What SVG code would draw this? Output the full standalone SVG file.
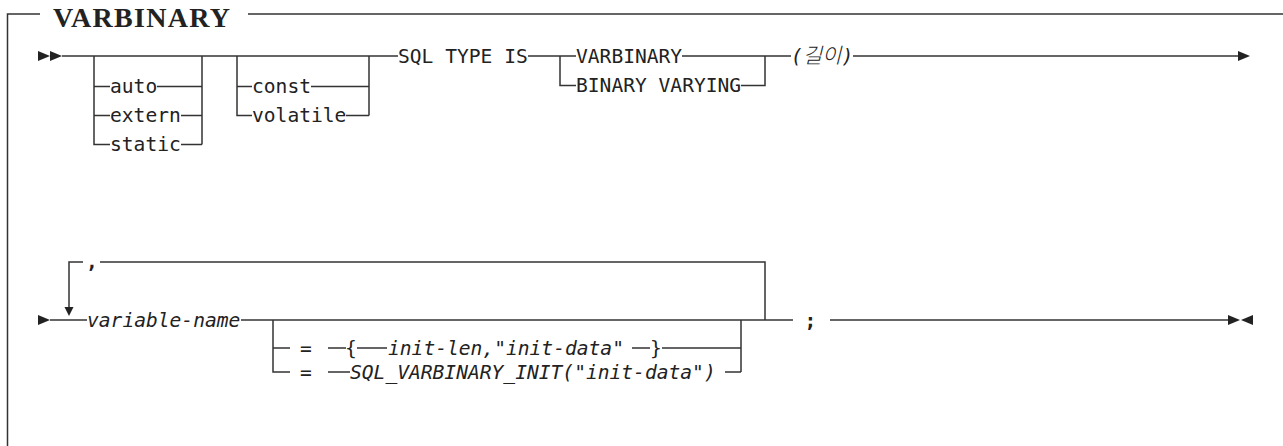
<svg xmlns="http://www.w3.org/2000/svg" width="1283" height="446" viewBox="0 0 1283 446">
  <style>
    .ln { fill: none; stroke: #333; stroke-width: 1.5; }
    .mk { fill: #222; stroke: none; }
    .kw { font-family: "DejaVu Sans Mono", "Liberation Mono", monospace; font-size: 19.6px; fill: #222; }
    .var { font-family: "DejaVu Sans Mono", "Liberation Mono", "Noto Sans CJK KR", monospace; font-size: 19.6px; font-style: italic; fill: #222; }
    .cjk { font-family: "Noto Sans CJK KR", sans-serif; font-size: 21px; font-weight: 300; }
    .title { font-family: "Liberation Serif", serif; font-weight: bold; font-size: 28px; fill: #222; }
  </style>
  <defs>
    <path id="tri-r" d="M0,-5 L12,0 L0,5 Z"/>
  </defs>

  <!-- frame with title -->
  <g id="frame">
    <path class="ln" d="M7.5,446 V14 H40 M248,14 H1283"/>
    <text class="title" x="53" y="27" textLength="177">VARBINARY</text>
  </g>

  <!-- connectors -->
  <g id="connectors">
    <!-- line 1: start marks -->
    <use href="#tri-r" class="mk" x="38" y="56"/>
    <use href="#tri-r" class="mk" x="50" y="56"/>
    <!-- main line 1 -->
    <path class="ln" d="M62,56 H398"/>
    <!-- storage class choice -->
    <path class="ln" d="M94,56 V144.5 H110 M94,86.5 H110 M94,115.5 H110"/>
    <path class="ln" d="M157,86.5 H202 M181,115.5 H202 M181,144.5 H202 M202,56 V144.5"/>
    <!-- qualifier choice -->
    <path class="ln" d="M237,56 V115.5 H252 M237,86.5 H252"/>
    <path class="ln" d="M311,86.5 H369 M346,115.5 H369 M369,56 V115.5"/>
    <!-- type choice -->
    <path class="ln" d="M528,56 H576 M560,56 V85.5 H576"/>
    <path class="ln" d="M682,56 H791 M741,85.5 H765 V56"/>
    <!-- tail of line 1 -->
    <path class="ln" d="M853,56 H1238"/>
    <use href="#tri-r" class="mk" x="1238" y="56"/>

    <!-- line 2: continuation mark -->
    <use href="#tri-r" class="mk" x="38" y="320"/>
    <path class="ln" d="M50,320 H87"/>
    <!-- repeat loop -->
    <path class="ln" d="M69,308 V262 H83 M100,262 H765 V320"/>
    <path class="mk" d="M64.5,307 H73.5 L69,316 Z"/>
    <!-- main line 2 -->
    <path class="ln" d="M241,320 H793"/>
    <!-- initializer choice -->
    <path class="ln" d="M273,320 V372 H290 M273,348 H290"/>
    <path class="ln" d="M328,348 H346 M357,348 H387 M632,348 H650 M662,348 H741"/>
    <path class="ln" d="M328,372 H350 M725,372 H741 M741,320 V372"/>
    <!-- tail of line 2 -->
    <path class="ln" d="M830,320 H1228"/>
    <use href="#tri-r" class="mk" x="1228" y="320"/>
    <path class="mk" d="M1253,315 L1241,320 L1253,325 Z"/>
  </g>

  <!-- nodes, line 1 -->
  <g id="n-auto"><text class="kw" x="110" y="93">auto</text></g>
  <g id="n-extern"><text class="kw" x="110" y="122">extern</text></g>
  <g id="n-static"><text class="kw" x="110" y="151">static</text></g>
  <g id="n-const"><text class="kw" x="252" y="93">const</text></g>
  <g id="n-volatile"><text class="kw" x="252" y="122">volatile</text></g>
  <g id="n-sqltype"><text class="kw" x="398" y="62.5">SQL TYPE IS</text></g>
  <g id="n-varbinary"><text class="kw" x="576" y="62.5">VARBINARY</text></g>
  <g id="n-binvarying"><text class="kw" x="576" y="92">BINARY VARYING</text></g>
  <g id="n-length"><text class="var" x="791" y="62.5">(<tspan class="cjk">길이</tspan>)</text></g>

  <!-- nodes, line 2 -->
  <g id="n-comma"><text class="kw" x="86" y="268" font-weight="bold" font-size="22">,</text></g>
  <g id="n-varname"><text class="var" x="87" y="326.5">variable-name</text></g>
  <g id="n-init-braces">
    <text class="kw" x="300" y="354.5">=</text>
    <text class="kw" x="345" y="354.5">{</text>
    <text class="var" x="388" y="354.5">init-len,"init-data"</text>
    <text class="kw" x="650" y="354.5">}</text>
  </g>
  <g id="n-init-macro">
    <text class="kw" x="300" y="378.5">=</text>
    <text class="var" x="350" y="378.5">SQL_VARBINARY_INIT("init-data")</text>
  </g>
  <g id="n-semicolon"><text class="kw" x="804.5" y="326.5" font-weight="bold">;</text></g>
</svg>
